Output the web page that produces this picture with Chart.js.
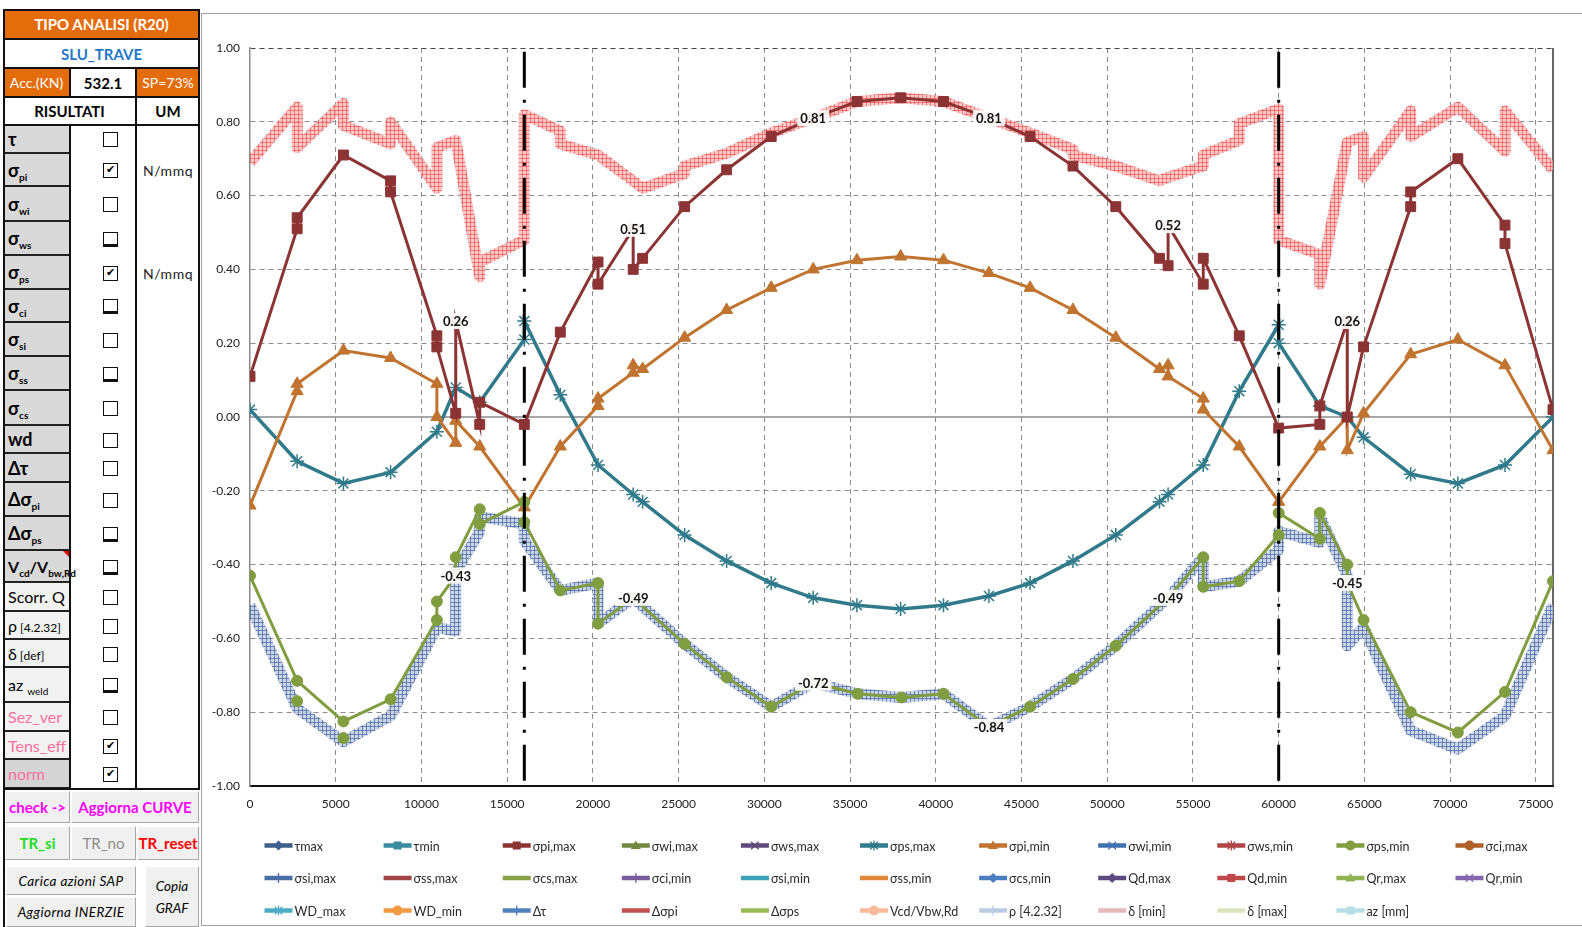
<!DOCTYPE html>
<html>
<head>
<meta charset="utf-8">
<script src="https://cdn.jsdelivr.net/npm/chart.js@4.4.1/dist/chart.umd.min.js"></script>
<style>
  html, body { margin: 0; padding: 0; background: #fff; }
  body { width: 1582px; height: 927px; position: relative; overflow: hidden;
         font-family: Lato, 'DejaVu Sans', sans-serif; }
  .cell { position: absolute; box-sizing: border-box; display: flex; align-items: center; justify-content: center; white-space: nowrap; }
  .bar { position: absolute; background: #111; }
  .lab { position: absolute; box-sizing: border-box; display: flex; align-items: center; padding-left: 3px;
         background: #d9d9d9; border-bottom: 2px solid #222; font-size: 16px; white-space: nowrap; color: #000; }
  .lab sub { font-size: 10px; vertical-align: -4px; line-height: 0; }
  .lab small { font-size: 12px; margin-left: 3px; }
  .lab.big { font-size: 18px; }
  .chk { position: absolute; width: 15px; height: 15px; box-sizing: border-box; border: 1.5px solid #111; background: #fff;
         font-size: 11px; line-height: 12px; text-align: center; font-family: 'DejaVu Sans', sans-serif; }
  .btn { position: absolute; box-sizing: border-box; display: flex; align-items: center; justify-content: center;
         background: #f0f0f0; border: 1px solid; border-color: #fff #a8a8a8 #a8a8a8 #fff; white-space: nowrap; text-align: center; }
  #frame { position: absolute; left: 201px; top: 13px; width: 1381px; height: 913px; border: 1px solid #a0a0a0; border-right: none; box-sizing: border-box; }
  #box { position: absolute; left: 202px; top: 14px; width: 1380px; height: 911px; }
</style>
</head>
<body>
<div id="panel"></div>
<div id="frame"></div>
<div id="box"><canvas id="chart"></canvas></div>
<script>
// ---- data ----
const xMax = 76000;
const xTicks = [0, 5000, 10000, 15000, 20000, 25000, 30000, 35000, 40000, 45000, 50000, 55000, 60000, 65000, 70000, 75000];
const yStep = 0.2;

const piMaxX = [0, 2750, 2750, 5450, 8200, 8200, 10900, 10900, 12000, 12000, 13400, 13400, 16000, 18100, 20300, 20300, 22350, 22350, 22900, 25350, 27800, 30400, 32850, 35400, 37950, 40450, 43100, 45500, 48000, 50500, 53050, 53550, 53550, 55600, 55600, 57700, 60000, 62400, 62400, 64000, 64000, 64950, 67700, 67700, 70450, 73200, 73200, 76000];
const piMaxY = [0.11, 0.51, 0.54, 0.71, 0.64, 0.61, 0.22, 0.19, 0.01, 0.26, -0.02, 0.04, -0.02, 0.23, 0.42, 0.36, 0.51, 0.40, 0.43, 0.57, 0.67, 0.76, 0.81, 0.855, 0.865, 0.855, 0.81, 0.76, 0.68, 0.57, 0.43, 0.41, 0.52, 0.36, 0.43, 0.22, -0.03, -0.02, 0.03, 0.26, 0.00, 0.19, 0.57, 0.61, 0.70, 0.52, 0.47, 0.02];

const piMinX = [0, 2750, 2750, 5450, 8200, 10900, 10900, 12000, 12000, 13400, 16000, 18100, 20300, 20300, 22350, 22350, 22900, 25350, 27800, 30400, 32850, 35400, 37950, 40450, 43100, 45500, 48000, 50500, 53050, 53550, 53550, 55600, 55600, 57700, 60000, 62400, 64000, 64000, 64950, 67700, 70450, 73200, 76000];
const piMinY = [-0.24, 0.07, 0.09, 0.18, 0.16, 0.09, 0.00, -0.07, -0.01, -0.08, -0.245, -0.08, 0.03, 0.05, 0.12, 0.14, 0.13, 0.215, 0.29, 0.35, 0.40, 0.425, 0.435, 0.425, 0.39, 0.35, 0.29, 0.215, 0.13, 0.14, 0.11, 0.05, 0.02, -0.08, -0.23, -0.08, 0.00, -0.09, 0.01, 0.17, 0.21, 0.14, -0.09];

const psMaxX = [0, 2750, 5450, 8200, 10900, 12000, 13400, 16000, 16000, 18100, 20300, 22350, 22900, 25350, 27800, 30400, 32850, 35400, 37950, 40450, 43100, 45500, 48000, 50500, 53050, 53550, 55600, 57700, 60000, 60000, 62400, 64000, 64950, 67700, 70450, 73200, 76000];
const psMaxY = [0.02, -0.12, -0.18, -0.15, -0.04, 0.08, 0.04, 0.21, 0.26, 0.06, -0.13, -0.21, -0.23, -0.32, -0.39, -0.45, -0.49, -0.51, -0.52, -0.51, -0.485, -0.45, -0.39, -0.32, -0.23, -0.21, -0.13, 0.07, 0.25, 0.20, 0.03, 0.00, -0.055, -0.155, -0.18, -0.13, 0.00];

const psMinX = [0, 2750, 5450, 8200, 10900, 10900, 12000, 12000, 13400, 13400, 16000, 16000, 18100, 20300, 20300, 22350, 25350, 27800, 30400, 32850, 35450, 38000, 40450, 43100, 45500, 48000, 50500, 53550, 55600, 55600, 57700, 60000, 60000, 62400, 62400, 64000, 64000, 64950, 67700, 70450, 73200, 76000];
const psMinY = [-0.43, -0.715, -0.825, -0.765, -0.55, -0.50, -0.43, -0.38, -0.25, -0.29, -0.23, -0.285, -0.47, -0.45, -0.56, -0.49, -0.615, -0.705, -0.785, -0.72, -0.75, -0.76, -0.75, -0.84, -0.785, -0.71, -0.62, -0.49, -0.38, -0.46, -0.445, -0.32, -0.26, -0.33, -0.26, -0.40, -0.45, -0.55, -0.80, -0.855, -0.745, -0.445];
const psMinLowX = [2750, 5450];
const psMinLowY = [-0.77, -0.87];

// effective stress envelopes (hatched bands)
const envMaxX = [0, 2750, 2750, 5450, 5450, 8200, 8200, 10900, 10900, 12000, 13400, 13400, 16000, 16000, 18100, 18100, 20300, 22350, 22900, 25350, 25350, 27800, 30400, 32850, 35400, 37950, 40450, 43100, 45500, 48000, 48000, 50500, 53050, 53550, 55600, 55600, 57700, 57700, 60000, 60000, 62400, 62400, 64000, 64950, 64950, 67700, 67700, 70450, 73200, 73200, 76000];
const envMaxY = [0.69, 0.84, 0.73, 0.85, 0.79, 0.74, 0.80, 0.62, 0.73, 0.75, 0.38, 0.42, 0.48, 0.82, 0.775, 0.74, 0.71, 0.64, 0.62, 0.66, 0.68, 0.715, 0.77, 0.81, 0.855, 0.865, 0.855, 0.81, 0.77, 0.725, 0.71, 0.68, 0.64, 0.65, 0.68, 0.71, 0.75, 0.795, 0.835, 0.48, 0.44, 0.36, 0.745, 0.76, 0.65, 0.83, 0.76, 0.84, 0.72, 0.83, 0.67];
const envMinX = [0, 2750, 5450, 8200, 10900, 12000, 12000, 13400, 13400, 16000, 16000, 18100, 20300, 20300, 22350, 25350, 27800, 30400, 32850, 35450, 38000, 40450, 43100, 45500, 48000, 50500, 53550, 55600, 55600, 57700, 60000, 60000, 62400, 62400, 64000, 64000, 64950, 67700, 70450, 73200, 76000];
const envMinY = [-0.51, -0.79, -0.88, -0.81, -0.57, -0.58, -0.42, -0.31, -0.27, -0.29, -0.335, -0.47, -0.45, -0.56, -0.49, -0.615, -0.705, -0.785, -0.72, -0.75, -0.76, -0.75, -0.84, -0.785, -0.71, -0.62, -0.49, -0.38, -0.46, -0.445, -0.36, -0.31, -0.34, -0.27, -0.43, -0.62, -0.57, -0.85, -0.90, -0.81, -0.51];

// supports (dash-dot verticals)
const supportX = [16000, 60000];

// data labels
const labelX = [12000, 22350, 32850, 43100, 53550, 64000, 12000, 22350, 32850, 43100, 53550, 64000];
const labelY = [0.26, 0.51, 0.81, 0.81, 0.52, 0.26, -0.43, -0.49, -0.72, -0.84, -0.49, -0.45];

// legend entries: name, colour, marker
const seriesNames = ['τmax', 'τmin', 'σpi,max', 'σwi,max', 'σws,max', 'σps,max', 'σpi,min', 'σwi,min', 'σws,min', 'σps,min', 'σci,max',
  'σsi,max', 'σss,max', 'σcs,max', 'σci,min', 'σsi,min', 'σss,min', 'σcs,min', 'Qd,max', 'Qd,min', 'Qr,max', 'Qr,min',
  'WD_max', 'WD_min', 'Δτ', 'Δσpi', 'Δσps', 'Vcd/Vbw,Rd', 'ρ [4.2.32]', 'δ [min]', 'δ [max]', 'az [mm]'];
const seriesColors = ['#3b5e8c', '#3a8ba0', '#8c3333', '#71893f', '#5f497a', '#307a8c', '#c07430', '#4070b0', '#b04545', '#809e40', '#b0602a',
  '#4a6fa5', '#a04444', '#86a248', '#7a5c9e', '#3fa0ba', '#e0873a', '#4a7ec0', '#5e4a80', '#c04848', '#92b355', '#8566ae',
  '#4bacc6', '#f29a43', '#4f81bd', '#c0504d', '#9bbb59', '#f9ba9a', '#b9cce4', '#e6b9b8', '#d7e4bd', '#b7dde8'];
const seriesMarkers = ['rectRot', 'rect', 'rect', 'triangle', 'crossRot', 'star', 'triangle', 'crossRot', 'star', 'circle', 'circle',
  'tick', 'none', 'none', 'tick', 'none', 'none', 'rectRot', 'rectRot', 'rect', 'triangle', 'crossRot',
  'star', 'circle', 'tick', 'none', 'none', 'circle', 'tick', 'none', 'none', 'rect'];

// ---- left control panel ----
const panel = document.getElementById('panel');
function add(cls, style, html) {
  const d = document.createElement('div');
  d.className = cls;
  d.style.cssText = style;
  if (html) d.innerHTML = html;
  panel.appendChild(d);
  return d;
}
add('cell', 'left:3px;top:9px;width:197px;height:30px;background:#e46c0a;color:#fff;font-weight:bold;font-size:15px;', 'TIPO ANALISI (R20)');
add('cell', 'left:3px;top:39px;width:197px;height:29px;background:#fff;color:#1f78c8;font-weight:bold;font-size:15px;', 'SLU_TRAVE');
add('cell', 'left:3px;top:68px;width:67px;height:29px;background:#e46c0a;color:#fff;font-size:14px;', 'Acc.(KN)');
add('cell', 'left:70px;top:68px;width:66px;height:29px;background:#fff;color:#000;font-weight:bold;font-size:15px;', '532.1');
add('cell', 'left:136px;top:68px;width:64px;height:29px;background:#e46c0a;color:#fff;font-size:14px;', 'SP=73%');
add('cell', 'left:3px;top:97px;width:133px;height:28px;color:#000;font-weight:bold;font-size:15px;', 'RISULTATI');
add('cell', 'left:136px;top:97px;width:64px;height:28px;color:#000;font-weight:bold;font-size:15px;', 'UM');

const panelRows = [
  ['τ', 125, 154, 0, '', 'g', 0],
  ['σ<sub>pi</sub>', 154, 187, 1, 'N/mmq', 'g', 0],
  ['σ<sub>wi</sub>', 187, 222, 0, '', 'g', 0],
  ['σ<sub>ws</sub>', 222, 256, 0, '', 'g', 1],
  ['σ<sub>ps</sub>', 256, 290, 1, 'N/mmq', 'g', 0],
  ['σ<sub>ci</sub>', 290, 323, 0, '', 'g', 1],
  ['σ<sub>si</sub>', 323, 357, 0, '', 'g', 0],
  ['σ<sub>ss</sub>', 357, 391, 0, '', 'g', 1],
  ['σ<sub>cs</sub>', 391, 426, 0, '', 'g', 0],
  ['wd', 426, 454, 0, '', 'g', 0],
  ['Δτ', 454, 483, 0, '', 'g', 0],
  ['Δσ<sub>pi</sub>', 483, 517, 0, '', 'g', 0],
  ['Δσ<sub>ps</sub>', 517, 551, 0, '', 'g', 1],
  ['V<sub>cd</sub>/V<sub>bw,Rd</sub>', 551, 583, 0, '', 'g', 1],
  ['Scorr. Q', 583, 612, 0, '', 'l', 0],
  ['ρ<small>[4.2.32]</small>', 612, 640, 0, '', 'l', 0],
  ['δ<small>[def]</small>', 640, 668, 0, '', 'l', 0],
  ['az <sub>weld</sub>', 668, 703, 0, '', 'l', 1],
  ['Sez_ver', 703, 732, 0, '', 'p', 0],
  ['Tens_eff', 732, 760, 1, '', 'p', 0],
  ['norm', 760, 789, 1, '', 'n', 0]
];
panelRows.forEach(r => {
  const [html, top, bot, checked, um, kind, thick] = r;
  let st = `left:5px;top:${top}px;width:64px;height:${bot - top}px;`;
  if (kind === 'g') st += 'font-weight:bold;';
  if (kind === 'l') st += 'background:#f2f2f2;';
  if (kind === 'p') st += 'background:#f2f2f2;color:#ff6f9f;';
  if (kind === 'n') st += 'background:#d4d4d4;color:#ff6f9f;';
  const big = kind === 'g' && html.indexOf('V<sub>') < 0;
  add(big ? 'lab big' : 'lab', st, '<span>' + html + '</span>');
  const cy = Math.round((top + bot) / 2 - 7.5);
  add('chk', `left:103px;top:${cy}px;` + (thick ? 'border-bottom-width:3px;' : ''), checked ? '✔' : '');
  if (um) add('cell', `left:137px;top:${top}px;width:62px;height:${bot - top}px;font-size:14px;color:#222;letter-spacing:0.5px;`, um);
});
// comment marker on Vcd cell
add('cell', 'left:63px;top:551px;width:0;height:0;border-top:6px solid #e00000;border-left:6px solid transparent;', '');

// black grid lines of the panel
[[3, 9, 2, 918], [69, 68, 2, 29], [69, 125, 2, 664], [135, 68, 2, 721], [198, 9, 2, 780]].forEach(b =>
  add('bar', `left:${b[0]}px;top:${b[1]}px;width:${b[2]}px;height:${b[3]}px;`));
[9, 38, 67, 96, 124, 788].forEach(y => add('bar', `left:3px;top:${y}px;width:197px;height:2px;`));

// buttons
add('btn', 'left:5px;top:791px;width:65px;height:32px;color:#ff00ff;font-weight:bold;font-size:15px;', 'check -&gt;');
add('btn', 'left:71px;top:791px;width:128px;height:32px;color:#ff00ff;font-weight:bold;font-size:15px;', 'Aggiorna CURVE');
add('btn', 'left:5px;top:826px;width:65px;height:34px;color:#1edc1e;font-weight:bold;font-size:15px;', 'TR_si');
add('btn', 'left:71px;top:826px;width:65px;height:34px;color:#8c8c8c;font-size:15px;', 'TR_no');
add('btn', 'left:137px;top:826px;width:62px;height:34px;color:#ff0000;font-weight:bold;font-size:15px;', 'TR_reset');
add('btn', 'left:6px;top:866px;width:130px;height:29px;font-style:italic;font-size:13.5px;letter-spacing:0.4px;', 'Carica azioni SAP');
add('btn', 'left:6px;top:897px;width:130px;height:30px;font-style:italic;font-size:13.5px;letter-spacing:0.4px;', 'Aggiorna INERZIE');
add('btn', 'left:145px;top:866px;width:54px;height:61px;font-style:italic;font-size:13.5px;line-height:22px;', 'Copia<br>GRAF');

// ---- chart ----
const fam = "Lato, 'DejaVu Sans', sans-serif";

function hatch(bg, line) {
  const c = document.createElement('canvas');
  c.width = 4; c.height = 4;
  const g = c.getContext('2d');
  g.fillStyle = bg; g.fillRect(0, 0, 4, 4);
  g.fillStyle = line; g.fillRect(0, 0, 4, 1); g.fillRect(0, 0, 1, 4);
  return g.createPattern(c, 'repeat');
}
const pts = (xs, ys) => xs.map((x, i) => ({x: x, y: ys[i]}));

const drawn = {
  'σpi,max': {data: pts(piMaxX, piMaxY), borderWidth: 3, pointStyle: 'rect', pointRadius: 7, order: 2},
  'σpi,min': {data: pts(piMinX, piMinY), borderWidth: 3, pointStyle: 'triangle', pointRadius: 7, order: 4},
  'σps,max': {data: pts(psMaxX, psMaxY), borderWidth: 3.5, pointStyle: 'star', pointRadius: 7, pointBorderWidth: 1.5, order: 5},
  'σps,min': {data: pts(psMinX, psMinY), borderWidth: 3, pointStyle: 'circle', pointRadius: 5.5, order: 3}
};

const datasets = seriesNames.map((name, i) => Object.assign({
  label: name,
  data: [],
  borderColor: seriesColors[i],
  backgroundColor: seriesColors[i],
  marker: seriesMarkers[i],
  pointBorderWidth: 1,
  order: 10
}, drawn[name] || {}));

datasets.push({
  label: 'env max', inLegend: false, data: pts(envMaxX, envMaxY),
  borderColor: hatch('rgba(252,182,182,0.72)', 'rgba(240,80,80,0.68)'), borderWidth: 11,
  borderJoinStyle: 'round', pointRadius: 0, order: 20
});
datasets.push({
  label: 'env min', inLegend: false, data: pts(envMinX, envMinY),
  borderColor: hatch('rgba(190,204,226,0.8)', 'rgba(70,100,160,0.7)'), borderWidth: 11,
  borderJoinStyle: 'round', pointRadius: 0, order: 19
});
datasets.push({
  label: 'σps,min', inLegend: false, data: pts(psMinLowX, psMinLowY), showLine: false,
  pointStyle: 'circle', pointRadius: 5.5, backgroundColor: '#809e40', borderColor: '#809e40', order: 3
});
supportX.forEach(sx => datasets.push({
  label: 'appoggio', inLegend: false, data: [{x: sx, y: 0.99}, {x: sx, y: -1}],
  borderColor: '#000', borderWidth: 3, borderDash: [36, 12, 3, 12], pointRadius: 0, order: 0
}));

function marker(ctx, style, x, y, r) {
  ctx.beginPath();
  if (style === 'circle') { ctx.arc(x, y, r, 0, Math.PI * 2); ctx.fill(); }
  else if (style === 'rect') { ctx.fillRect(x - r * 0.8, y - r * 0.8, r * 1.6, r * 1.6); }
  else if (style === 'rectRot') { ctx.moveTo(x, y - r); ctx.lineTo(x + r, y); ctx.lineTo(x, y + r); ctx.lineTo(x - r, y); ctx.closePath(); ctx.fill(); }
  else if (style === 'triangle') { ctx.moveTo(x, y - r); ctx.lineTo(x + r, y + r * 0.7); ctx.lineTo(x - r, y + r * 0.7); ctx.closePath(); ctx.fill(); }
  else if (style === 'crossRot' || style === 'star') {
    ctx.lineWidth = 1.3;
    ctx.moveTo(x - r * 0.75, y - r * 0.75); ctx.lineTo(x + r * 0.75, y + r * 0.75);
    ctx.moveTo(x + r * 0.75, y - r * 0.75); ctx.lineTo(x - r * 0.75, y + r * 0.75);
    if (style === 'star') { ctx.moveTo(x, y - r); ctx.lineTo(x, y + r); }
    ctx.stroke();
  } else if (style === 'tick') { ctx.lineWidth = 1.3; ctx.moveTo(x, y - r); ctx.lineTo(x, y + r); ctx.stroke(); }
}

const extras = {
  id: 'extras',
  beforeDatasetsDraw(chart) {
    const {ctx, chartArea: a, scales: {x, y}} = chart;
    ctx.save();
    const y0 = y.getPixelForValue(0);
    ctx.strokeStyle = '#8a8a8a'; ctx.lineWidth = 1.5;
    ctx.beginPath(); ctx.moveTo(a.left, y0); ctx.lineTo(a.right, y0); ctx.stroke();
    ctx.strokeStyle = '#333';
    ctx.beginPath(); ctx.moveTo(a.right, a.top); ctx.lineTo(a.right, a.bottom); ctx.stroke();
    ctx.restore();
  },
  afterDatasetsDraw(chart) {
    const {ctx, scales: {x, y}} = chart;
    ctx.save();
    ctx.font = 'bold 13px ' + fam;
    ctx.textAlign = 'center';
    ctx.textBaseline = 'middle';
    labelX.forEach((vx, i) => {
      const px = x.getPixelForValue(vx), py = y.getPixelForValue(labelY[i]);
      const t = labelY[i].toFixed(2);
      const w = ctx.measureText(t).width + 6;
      ctx.fillStyle = 'rgba(255,255,255,0.9)';
      ctx.fillRect(px - w / 2, py - 8, w, 16);
      ctx.fillStyle = '#111';
      ctx.fillText(t, px, py + 1);
    });
    ctx.restore();
  },
  afterDraw(chart) {
    const ctx = chart.ctx;
    const rows = [831.5, 864, 896.5];
    ctx.save();
    ctx.font = '12.5px ' + fam;
    ctx.textBaseline = 'middle';
    ctx.textAlign = 'left';
    let k = 0;
    chart.data.datasets.forEach(d => {
      if (d.inLegend === false) return;
      const col = k % 11, row = Math.floor(k / 11);
      const x0 = 62.5 + col * 119.1, yy = rows[row];
      ctx.strokeStyle = d.borderColor; ctx.fillStyle = d.borderColor;
      ctx.lineWidth = 4.5;
      ctx.beginPath(); ctx.moveTo(x0, yy); ctx.lineTo(x0 + 28, yy); ctx.stroke();
      marker(ctx, d.marker, x0 + 14, yy, 5);
      ctx.fillStyle = '#2a2a2a';
      ctx.fillText(d.label, x0 + 30, yy + 1);
      k++;
    });
    ctx.restore();
  }
};

Chart.defaults.font.family = fam;
Chart.defaults.font.size = 12;
Chart.defaults.color = '#222';

new Chart(document.getElementById('chart'), {
  type: 'line',
  data: {datasets: datasets},
  options: {
    responsive: true,
    maintainAspectRatio: false,
    animation: false,
    events: [],
    layout: {padding: {top: 34, right: 29, bottom: 109, left: 0}},
    elements: {line: {tension: 0}},
    plugins: {legend: {display: false}, tooltip: {enabled: false}},
    scales: {
      x: {
        type: 'linear', min: 0, max: xMax,
        afterFit: s => { s.height = 30; },
        afterBuildTicks: s => { s.ticks = xTicks.map(v => ({value: v})); },
        ticks: {autoSkip: false, padding: 11, maxRotation: 0, callback: v => String(v)},
        grid: {drawTicks: false, color: c => c.tick && c.tick.value === 0 ? 'rgba(0,0,0,0)' : '#8c8c8c', lineWidth: 1},
        border: {display: true, color: '#111', width: 2, dash: [5, 4]}
      },
      y: {
        type: 'linear', min: -1, max: 1,
        afterFit: s => { s.width = 48; },
        ticks: {stepSize: yStep, padding: 10, callback: v => v.toFixed(2)},
        grid: {drawTicks: false, lineWidth: 1,
          color: c => {
            const v = c.tick ? c.tick.value : NaN;
            if (Math.abs(v) < 1e-9) return 'rgba(0,0,0,0)';
            if (Math.abs(v - 1) < 1e-9) return '#444';
            return '#8c8c8c';
          }},
        border: {display: true, color: '#8a8a8a', width: 1.5, dash: [5, 4]}
      }
    }
  },
  plugins: [extras]
});
</script>
</body>
</html>
